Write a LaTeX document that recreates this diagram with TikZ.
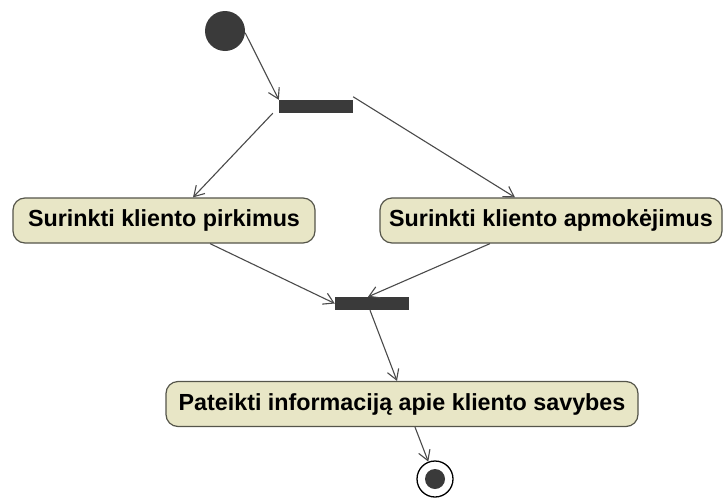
\documentclass[tikz,border=0pt]{standalone}
\usepackage{fontspec}
\setmainfont{Liberation Sans}
\usetikzlibrary{arrows.meta}
\definecolor{actfill}{HTML}{E8E6C6}
\definecolor{actdraw}{HTML}{55554A}
\definecolor{bardark}{HTML}{3A3A3A}
\definecolor{flowline}{HTML}{4A4A4A}
\tikzset{
  action/.style={draw=actdraw, line width=1.2pt, fill=actfill, rounded corners=12pt,
    minimum height=45pt, inner sep=0pt,
    font=\fontsize{23.3}{25}\selectfont\bfseries, text=black},
  syncbar/.style={fill=bardark, draw=none, minimum width=74pt, minimum height=13pt, inner sep=0pt},
  startdot/.style={circle, fill=bardark, draw=none, minimum size=40pt, inner sep=0pt},
  enddot/.style={circle, draw=black, line width=1.3pt, fill=white, minimum size=36pt, inner sep=0pt,
    path picture={\fill[bardark] (path picture bounding box.center) circle (10pt);}},
  flow/.style={draw=flowline, line width=1.1pt, -{Straight Barb[length=10pt,width=12pt]}}
}
\begin{document}
\begin{tikzpicture}[x=1pt,y=-1pt]
  \useasboundingbox (0,0) rectangle (725,498);
  \node[startdot] (start) at (225,31) {};
  \node[syncbar] (fork) at (316,106.5) {};
  \node[action, minimum width=302pt] (buy) at (164,220.5) {Surinkti kliento pirkimus};
  \node[action, minimum width=342pt] (pay) at (551,220.5) {Surinkti kliento apmokėjimus};
  \node[syncbar] (join) at (372,303.5) {};
  \node[action, minimum width=472pt] (info) at (402,404) {Pateikti informaciją apie kliento savybes};
  \node[enddot] (end) at (435,479) {};

  \draw[flow] (start.-5) -- (fork.north west);
  \draw[flow] ([xshift=-6pt]fork.south west) -- ([xshift=29pt]buy.north);
  \draw[flow] ([yshift=3pt]fork.north east) -- ([xshift=-36pt]pay.north);
  \draw[flow] ([xshift=46pt]buy.south) -- (join.west);
  \draw[flow] ([xshift=-61pt]pay.south) -- ([xshift=-4pt]join.north);
  \draw[flow] ([xshift=-2pt]join.south) -- ([xshift=-5pt]info.north);
  \draw[flow] ([xshift=13pt]info.south) -- (end);
\end{tikzpicture}
\end{document}
